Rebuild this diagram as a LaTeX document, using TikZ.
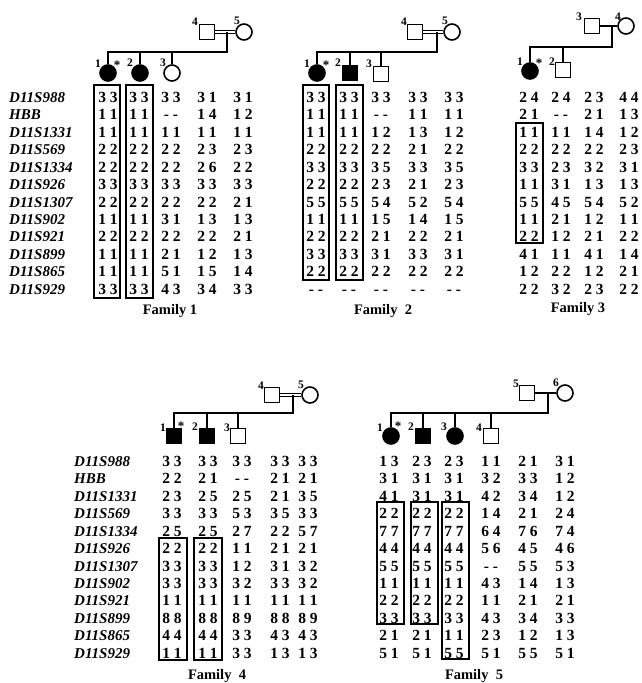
\documentclass[tikz,border=0pt]{standalone}
\usepackage{fontspec}
\setmainfont{Liberation Serif}
\tikzset{
  dat/.style={font=\bfseries\fontsize{15.5}{16}\selectfont, inner sep=0pt, anchor=base},
  mk/.style={font=\bfseries\itshape\fontsize{15}{16}\selectfont, inner sep=0pt, anchor=base west},
  fam/.style={font=\bfseries\fontsize{14.5}{16}\selectfont, inner sep=0pt, anchor=base},
  pid/.style={font=\bfseries\fontsize{11.5}{12}\selectfont, inner sep=0pt},
  star/.style={font=\bfseries\fontsize{13}{13}\selectfont, inner sep=0pt},
  hapbox/.style={draw, line width=1.6pt},
  ped/.style={line width=1.6pt},
  marr/.style={line width=0.9pt, double, double distance=1.4pt},
  marrone/.style={line width=2.2pt},
  male/.style={draw, line width=1.6pt, rectangle, minimum size=15pt, inner sep=0pt},
  female/.style={draw, line width=1.6pt, circle, minimum size=16pt, inner sep=0pt},
  aff/.style={fill=black},
}
\newcommand\famrows[4]{%
  \foreach \rw [count=\i from 0] in {#4} {
    \foreach \v [count=\j from 0] in \rw {
      \pgfmathsetmacro\xx{{#2}[\j]}
      \node[dat] (#1r\i-\j) at (\xx, #3+17.45*\i+5.3) {\v};
    }
  }%
}
\newcommand\markerlist[3]{%
  \foreach \m [count=\i from 0] in {D11S988,HBB,D11S1331,D11S569,D11S1334,D11S926,D11S1307,D11S902,D11S921,D11S899,D11S865,D11S929} {
    \node[mk] (#1-\i) at (#2, #3+17.45*\i+5.3) {\m};
  }%
}
\begin{document}
\begin{tikzpicture}[x=1pt, y=-1pt]
\useasboundingbox (0,0) rectangle (642,683);
\fill[white] (0,0) rectangle (642,683);

% ---------------- markers -----------------
\markerlist{mkA}{9}{97}
\markerlist{mkB}{74}{461}

% ---------------- Family 1 -----------------
\node[male] (f1p4) at (207,32) {};
\node[female] (f1p5) at (244,32) {};
\draw[marr] (f1p4.east) -- (f1p5.west);
\coordinate (f1m) at (227,32);
\coordinate (f1s) at (227,52);
\node[female,aff] (f1c1) at (108,73) {};
\node[female,aff] (f1c2) at (140,73) {};
\node[female] (f1c3) at (172,73) {};
\draw[ped] (f1m) -- (f1s) -- (f1c1 |- f1s) -- (f1c1.north);
\draw[ped] (f1c2 |- f1s) -- (f1c2.north);
\draw[ped] (f1c3 |- f1s) -- (f1c3.north);
\node[pid] (f1l4) at (195,22) {4};
\node[pid] (f1l5) at (237,21) {5};
\node[pid] (f1l1) at (98,64) {1};
\node[star] (f1st) at (117,65) {*};
\node[pid] (f1l2) at (130,63) {2};
\node[pid] (f1l3) at (163,63) {3};
\famrows{fa}{108,139,171,207,243}{97}{
 {3 3,3 3,3 3,3 1,3 1},
 {1 1,1 1,- -,1 4,1 2},
 {1 1,1 1,1 1,1 1,1 1},
 {2 2,2 2,2 2,2 3,2 3},
 {2 2,2 2,2 2,2 6,2 2},
 {3 3,3 3,3 3,3 3,3 3},
 {2 2,2 2,2 2,2 2,2 1},
 {1 1,1 1,3 1,1 3,1 3},
 {2 2,2 2,2 2,2 2,2 1},
 {1 1,1 1,2 1,1 2,1 3},
 {1 1,1 1,5 1,1 5,1 4},
 {3 3,3 3,4 3,3 4,3 3}}
\draw[hapbox] (94,85) rectangle (120,298);
\draw[hapbox] (126,85) rectangle (153,298);
\node[fam] (fam1) at (170,314) {Family 1};

% ---------------- Family 2 -----------------
\node[male] (f2p4) at (415,32) {};
\node[female] (f2p5) at (452,32) {};
\draw[marr] (f2p4.east) -- (f2p5.west);
\coordinate (f2m) at (437,32);
\coordinate (f2s) at (437,52);
\node[female,aff] (f2c1) at (317,73) {};
\node[male,aff] (f2c2) at (350,73) {};
\node[male] (f2c3) at (381,74) {};
\draw[ped] (f2m) -- (f2s) -- (f2c1 |- f2s) -- (f2c1.north);
\draw[ped] (f2c2 |- f2s) -- (f2c2.north);
\draw[ped] (f2c3 |- f2s) -- (f2c3.north);
\node[pid] (f2l4) at (404,22) {4};
\node[pid] (f2l5) at (445,21) {5};
\node[pid] (f2l1) at (307,64) {1};
\node[star] (f2st) at (326,65) {*};
\node[pid] (f2l2) at (338,63) {2};
\node[pid] (f2l3) at (369,64) {3};
\famrows{fb}{316,349,381,418,454}{97}{
 {3 3,3 3,3 3,3 3,3 3},
 {1 1,1 1,- -,1 1,1 1},
 {1 1,1 1,1 2,1 3,1 2},
 {2 2,2 2,2 2,2 1,2 2},
 {3 3,3 3,3 5,3 3,3 5},
 {2 2,2 2,2 3,2 1,2 3},
 {5 5,5 5,5 4,5 2,5 4},
 {1 1,1 1,1 5,1 4,1 5},
 {2 2,2 2,2 1,2 2,2 1},
 {3 3,3 3,3 1,3 3,3 1},
 {2 2,2 2,2 2,2 2,2 2},
 {- -,- -,- -,- -,- -}}
\draw[hapbox] (303,85) rectangle (329,280);
\draw[hapbox] (336,85) rectangle (363,280);
\node[fam] (fam2) at (383,314) {Family\ \ 2};

% ---------------- Family 3 -----------------
\node[male] (f3p3) at (592,26) {};
\node[female] (f3p4) at (626,26) {};
\draw[marrone] (f3p3.east) -- (f3p4.west);
\coordinate (f3m) at (612,26);
\coordinate (f3s) at (612,47);
\node[female,aff] (f3c1) at (530,71) {};
\node[male] (f3c2) at (563,70) {};
\draw[ped] (f3m) -- (f3s) -- (f3c1 |- f3s) -- (f3c1.north);
\draw[ped] (f3c2 |- f3s) -- (f3c2.north);
\node[pid] (f3l3) at (579,17) {3};
\node[pid] (f3l4) at (618,17) {4};
\node[pid] (f3l1) at (520,62) {1};
\node[star] (f3st) at (539,63) {*};
\node[pid] (f3l2) at (552,62) {2};
\famrows{fc}{529,561,594,629}{97}{
 {2 4,2 4,2 3,4 4},
 {2 1,- -,2 1,1 3},
 {1 1,1 1,1 4,1 2},
 {2 2,2 2,2 2,2 3},
 {3 3,2 3,3 2,3 1},
 {1 1,3 1,1 3,1 3},
 {5 5,4 5,5 4,5 2},
 {1 1,2 1,1 2,1 1},
 {2 2,1 2,2 1,2 2},
 {4 1,1 1,4 1,1 4},
 {1 2,2 2,1 2,2 1},
 {2 2,3 2,2 3,2 2}}
\draw[hapbox] (516,123) rectangle (543,243);
\node[fam] (fam3) at (578,312) {Family 3};

% ---------------- Family 4 -----------------
\node[male] (f4p4) at (272,395) {};
\node[female] (f4p5) at (310,395) {};
\draw[marr] (f4p4.east) -- (f4p5.west);
\coordinate (f4m) at (293,395);
\coordinate (f4s) at (293,413);
\node[male,aff] (f4c1) at (174,436) {};
\node[male,aff] (f4c2) at (207,436) {};
\node[male] (f4c3) at (238,436) {};
\draw[ped] (f4m) -- (f4s) -- (f4c1 |- f4s) -- (f4c1.north);
\draw[ped] (f4c2 |- f4s) -- (f4c2.north);
\draw[ped] (f4c3 |- f4s) -- (f4c3.north);
\node[pid] (f4l4) at (261,386) {4};
\node[pid] (f4l5) at (301,385) {5};
\node[pid] (f4l1) at (163,428) {1};
\node[star] (f4st) at (181,426) {*};
\node[pid] (f4l2) at (195,427) {2};
\node[pid] (f4l3) at (227,428) {3};
\famrows{fd}{172,208,242,280,308}{461}{
 {3 3,3 3,3 3,3 3,3 3},
 {2 2,2 1,- -,2 1,2 1},
 {2 3,2 5,2 5,2 1,3 5},
 {3 3,3 3,5 3,3 5,3 3},
 {2 5,2 5,2 7,2 2,5 7},
 {2 2,2 2,1 1,2 1,2 1},
 {3 3,3 3,1 2,3 1,3 2},
 {3 3,3 3,3 2,3 3,3 2},
 {1 1,1 1,1 1,1 1,1 1},
 {8 8,8 8,8 9,8 8,8 9},
 {4 4,4 4,3 3,4 3,4 3},
 {1 1,1 1,3 3,1 3,1 3}}
\draw[hapbox] (159,538) rectangle (187,660);
\draw[hapbox] (194,538) rectangle (222,660);
\node[fam] (fam4) at (217,679) {Family\ \ 4};

% ---------------- Family 5 -----------------
\node[male] (f5p5) at (527,393) {};
\node[female] (f5p6) at (565,393) {};
\draw[ped] (f5p5.east) -- (f5p6.west);
\coordinate (f5m) at (548,393);
\coordinate (f5s) at (548,413);
\node[female,aff] (f5c1) at (391,436) {};
\node[male,aff] (f5c2) at (423,436) {};
\node[female,aff] (f5c3) at (455,436) {};
\node[male] (f5c4) at (491,436) {};
\draw[ped] (f5m) -- (f5s) -- (f5c1 |- f5s) -- (f5c1.north);
\draw[ped] (f5c2 |- f5s) -- (f5c2.north);
\draw[ped] (f5c3 |- f5s) -- (f5c3.north);
\draw[ped] (f5c4 |- f5s) -- (f5c4.north);
\node[pid] (f5l5) at (516,384) {5};
\node[pid] (f5l6) at (556,383) {6};
\node[pid] (f5l1) at (380,428) {1};
\node[star] (f5st) at (398,426) {*};
\node[pid] (f5l2) at (411,427) {2};
\node[pid] (f5l3) at (444,427) {3};
\node[pid] (f5l4) at (479,428) {4};
\famrows{fe}{389,422,454,491,528,565}{461}{
 {1 3,2 3,2 3,1 1,2 1,3 1},
 {3 1,3 1,3 1,3 2,3 3,1 2},
 {4 1,3 1,3 1,4 2,3 4,1 2},
 {2 2,2 2,2 2,1 4,2 1,2 4},
 {7 7,7 7,7 7,6 4,7 6,7 4},
 {4 4,4 4,4 4,5 6,4 5,4 6},
 {5 5,5 5,5 5,- -,5 5,5 3},
 {1 1,1 1,1 1,4 3,1 4,1 3},
 {2 2,2 2,2 2,1 1,2 1,2 1},
 {3 3,3 3,3 3,4 3,3 4,3 3},
 {2 1,2 1,1 1,2 3,1 2,1 3},
 {5 1,5 1,5 5,5 1,5 5,5 1}}
\draw[hapbox] (377,502) rectangle (404,624);
\draw[hapbox] (411,502) rectangle (438,624);
\draw[hapbox] (442,502) rectangle (469,659);
\node[fam] (fam5) at (474,679) {Family\ \ 5};
\end{tikzpicture}
\end{document}
